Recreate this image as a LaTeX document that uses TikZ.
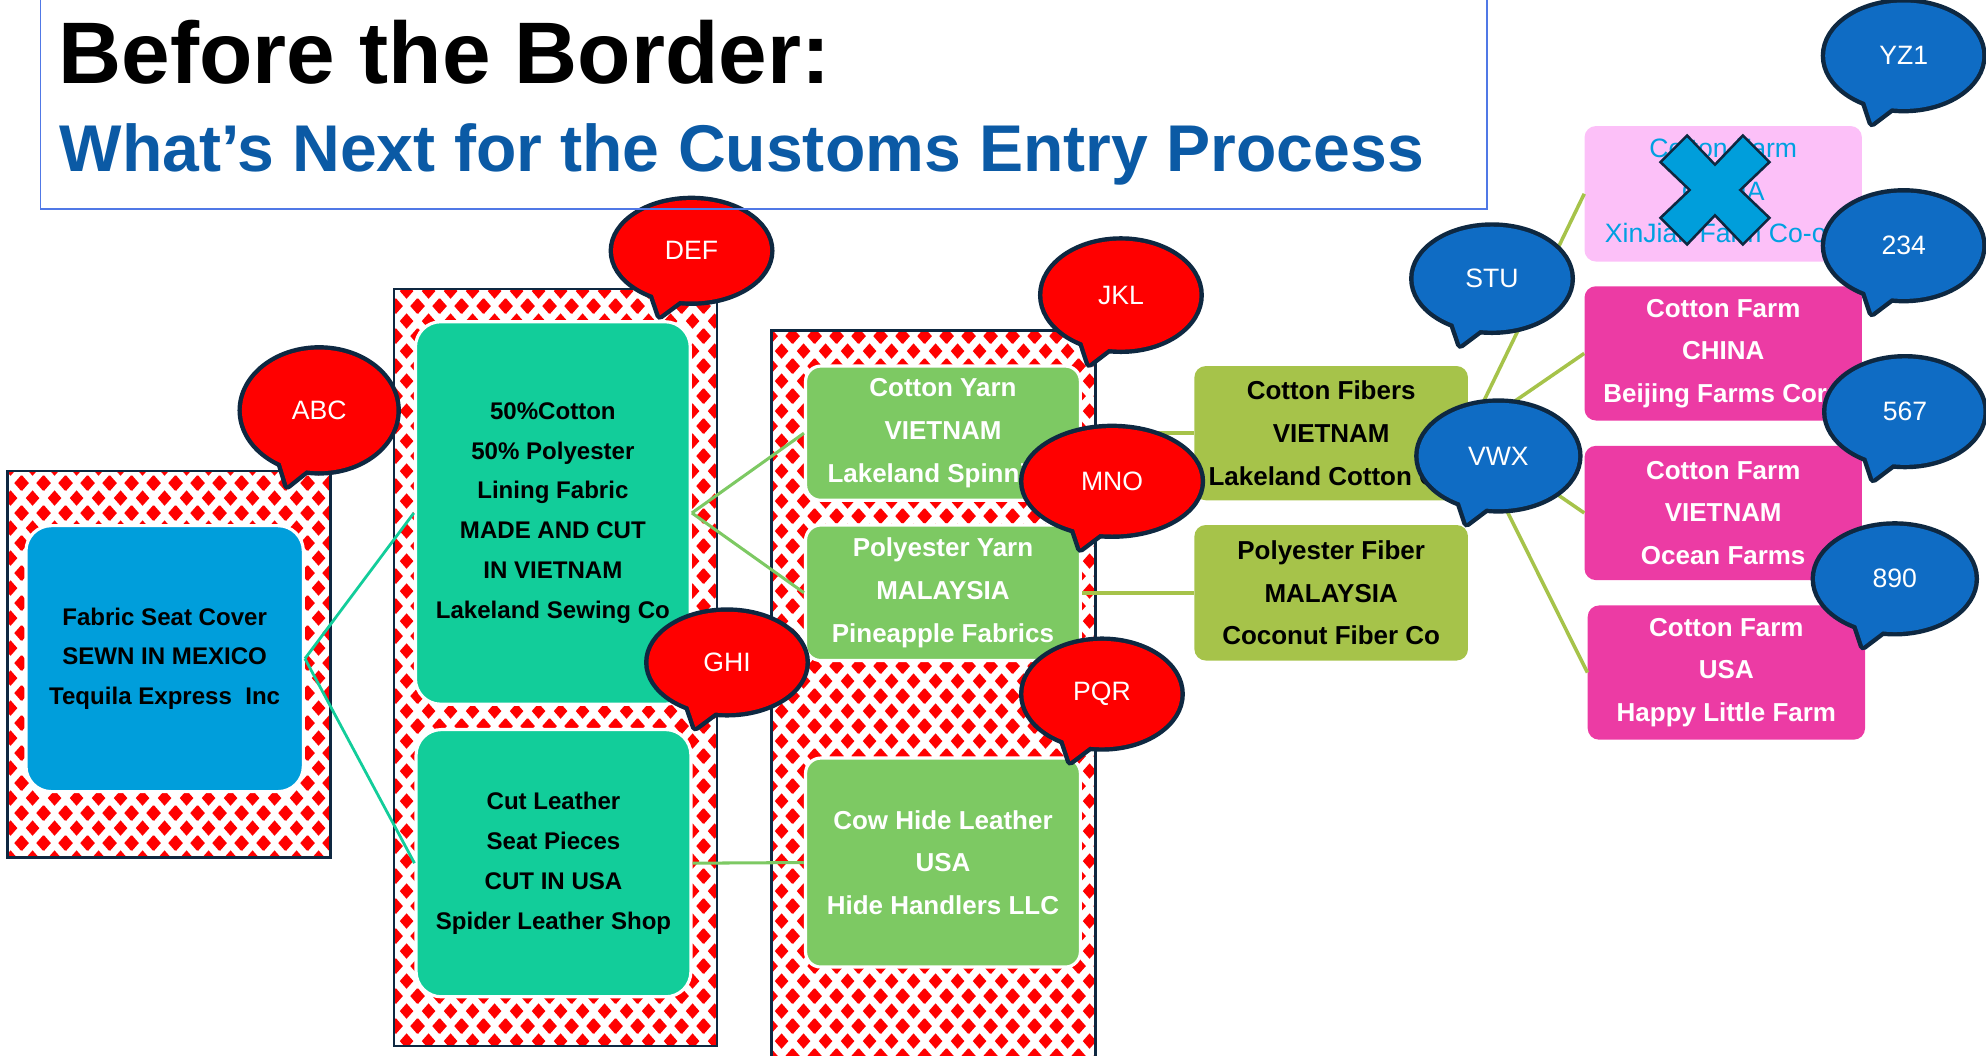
\documentclass[tikz,border=0pt]{standalone}
\usepackage{fontspec}
\setmainfont{Liberation Sans}
\usetikzlibrary{patterns}
\definecolor{navy}{RGB}{14,40,65}
\definecolor{bluebox}{RGB}{0,158,219}
\definecolor{tealbox}{RGB}{18,205,154}
\definecolor{greenbox}{RGB}{125,201,99}
\definecolor{olivebox}{RGB}{166,195,74}
\definecolor{pinkbox}{RGB}{236,59,164}
\definecolor{fadepink}{RGB}{252,192,248}
\definecolor{fadetext}{RGB}{0,160,225}
\definecolor{bubblue}{RGB}{15,108,196}
\definecolor{bubred}{RGB}{255,0,0}
\definecolor{titleblue}{RGB}{11,90,165}
\definecolor{framebl}{RGB}{80,120,230}
\newcommand\pdiamond[2]{%
 \pgfpathmoveto{\pgfpoint{#1pt-5.6pt}{#2pt}}%
 \pgfpathlineto{\pgfpoint{#1pt}{#2pt+6.2pt}}%
 \pgfpathlineto{\pgfpoint{#1pt+5.6pt}{#2pt}}%
 \pgfpathlineto{\pgfpoint{#1pt}{#2pt-6.2pt}}%
 \pgfpathclose}
\pgfdeclarepatternformonly{reddiam}{\pgfpointorigin}{\pgfpoint{17.4pt}{24pt}}{\pgfpoint{17.4pt}{24pt}}{%
 \pdiamond{8.7}{12}\pdiamond{0}{0}\pdiamond{17.4}{0}\pdiamond{0}{24}\pdiamond{17.4}{24}%
 \pgfusepath{fill}}
\newcommand\mybubble[7]{%
 \begin{scope}[shift={(#2,#3)}]
  \draw[navy, line width=7, line join=round] (0,0) ellipse [x radius=#4, y radius=#5];
  \draw[navy, line width=7, line join=round] ({-33},{0.69*#5}) -- ({-25},{#5+11}) -- ({-1},{0.83*#5}) -- cycle;
  \fill[#6] (0,0) ellipse [x radius=#4, y radius=#5];
  \fill[#6] ({-33},{0.69*#5}) -- ({-25},{#5+11}) -- ({-1},{0.83*#5}) -- cycle;
  \node[bubtxt] (#1) at (0,0) {#7};
 \end{scope}}
\begin{document}
\begin{tikzpicture}[x=1pt,y=-1pt,
  framebx/.style={draw=navy, line width=2, pattern=reddiam, pattern color=bubred, inner sep=0},
  bx/.style={inner sep=0, align=center},
  narrowtxt/.style={font=\fontsize{19}{31.4}\selectfont\bfseries},
  widetxt/.style={font=\fontsize{20.5}{33.7}\selectfont\bfseries},
  bluebx/.style={bx, narrowtxt, fill=bluebox, draw=white, line width=2.5, rounded corners=20, text=black},
  tealbx/.style={bx, narrowtxt, fill=tealbox, draw=white, line width=2.5, rounded corners=20, text=black},
  greenbx/.style={bx, widetxt, fill=greenbox, draw=white, line width=2.5, rounded corners=12, text=white},
  olivebx/.style={bx, widetxt, fill=olivebox, rounded corners=9, text=black},
  pinkbx/.style={bx, widetxt, fill=pinkbox, rounded corners=9, text=white},
  fadebx/.style={bx, font=\fontsize{21}{33.5}\selectfont, fill=fadepink, rounded corners=9, text=fadetext},
  bubtxt/.style={font=\fontsize{21}{25}\selectfont, text=white, inner sep=0},
  tealln/.style={draw=tealbox, line width=2.2},
  greenln/.style={draw=greenbox, line width=2.4},
  oliveln/.style={draw=olivebox, line width=2.8}
]
\useasboundingbox (0,0) rectangle (1568,833);
% frames
\node[framebx, minimum width=255pt, minimum height=305pt] (f1) at (133.5,524.5) {};
\node[framebx, minimum width=255pt, minimum height=598pt] (f2) at (438.5,527) {};
\node[framebx, minimum width=256pt, minimum height=590pt] (f3) at (737,556) {};
% boxes
\node[bluebx, minimum width=219pt, minimum height=210pt] (seat) at (130,520) {Fabric Seat Cover\\SEWN IN MEXICO\\Tequila Express\ \ Inc};
\node[tealbx, minimum width=217pt, minimum height=302pt] (teal1) at (436.5,405) {50\%Cotton\\50\% Polyester\\Lining Fabric\\MADE AND CUT\\IN VIETNAM\\Lakeland Sewing Co};
\node[tealbx, minimum width=217pt, minimum height=211pt] (teal2) at (437,681.5) {Cut Leather\\Seat Pieces\\CUT IN USA\\Spider Leather Shop};
\node[greenbx, minimum width=217pt, minimum height=106pt] (yarn1) at (744.5,342) {Cotton Yarn\\VIETNAM\\Lakeland Spinning};
\node[greenbx, minimum width=217pt, minimum height=107pt] (yarn2) at (744.5,468) {Polyester Yarn\\MALAYSIA\\Pineapple Fabrics};
\node[greenbx, minimum width=217pt, minimum height=165pt] (cow) at (744.5,681) {Cow Hide Leather\\USA\\Hide Handlers LLC};
\node[olivebx, minimum width=216pt, minimum height=106pt] (fib1) at (1051,342) {Cotton Fibers\\VIETNAM\\Lakeland Cotton Co};
\node[olivebx, minimum width=216pt, minimum height=107pt] (fib2) at (1051,468) {Polyester Fiber\\MALAYSIA\\Coconut Fiber Co};
\node[fadebx, minimum width=219pt, minimum height=107pt] (farm0) at (1360.5,153) {Cotton Farm\\CHINA\\XinJian Farm Co-op};
\node[pinkbx, minimum width=219pt, minimum height=106pt] (farm1) at (1360.5,279) {Cotton Farm\\CHINA\\Beijing Farms Corp};
\node[pinkbx, minimum width=219pt, minimum height=106pt] (farm2) at (1360.5,405) {Cotton Farm\\VIETNAM\\Ocean Farms};
\node[pinkbx, minimum width=219pt, minimum height=106pt] (farm3) at (1363,531) {Cotton Farm\\USA\\Happy Little Farm};
% connectors between boxes
\draw[tealln] (seat.east) -- (teal1.west);
\draw[tealln] (seat.east) -- (teal2.west);
\draw[greenln] (teal1.east) -- (yarn1.west);
\draw[greenln] (teal1.east) -- (yarn2.west);
\draw[greenln] (teal2.east) -- (cow.west);
\draw[oliveln] (yarn1.east) -- (fib1.west);
\draw[oliveln] (yarn2.east) -- (fib2.west);
\draw[oliveln] (fib1.east) -- (farm0.west);
\draw[oliveln] (fib1.east) -- (farm1.west);
\draw[oliveln] (fib1.east) -- (farm2.west);
\draw[oliveln] (fib1.east) -- (farm3.west);
% cross over the struck-out farm
\begin{scope}[shift={(1354,150)}]
\draw[navy, fill=bluebox, line width=2, line join=miter] (0,-20) -- (22,-43) -- (43,-22) -- (20,0) -- (43,22) -- (22,43) -- (0,20) -- (-22,43) -- (-43,22) -- (-20,0) -- (-43,-22) -- (-22,-43) -- cycle;
\end{scope}
% speech bubbles
\mybubble{bABC}{252}{324}{61}{48}{bubred}{ABC}
\mybubble{bDEF}{546}{198}{62}{40}{bubred}{DEF}
\mybubble{bGHI}{574}{523}{62}{40}{bubred}{GHI}
\mybubble{bJKL}{885}{233}{62}{43}{bubred}{JKL}
\mybubble{bMNO}{878}{380}{70}{42}{bubred}{MNO}
\mybubble{bPQR}{870}{548}{62}{42}{bubred}{PQR}
\mybubble{bSTU}{1178}{220}{62}{41}{bubblue}{STU}
\mybubble{bVWX}{1183}{360}{63}{42}{bubblue}{VWX}
\mybubble{bYZ1}{1503}{44}{62}{42}{bubblue}{YZ1}
\mybubble{b234}{1503}{194}{62}{42}{bubblue}{234}
\mybubble{b567}{1504}{325}{62}{42}{bubblue}{567}
\mybubble{b890}{1496}{457}{63}{42}{bubblue}{890}
% title
\node[anchor=base west, inner sep=0, font=\fontsize{69}{80}\selectfont\bfseries] (title) at (46,66) {Before the Border:};
\node[anchor=base west, inner sep=0, text=titleblue, font=\fontsize{52.2}{60}\selectfont\bfseries] (subtitle) at (47,135.5) {What’s Next for the Customs Entry Process};
\node[draw=framebl, line width=1.5, inner sep=0, minimum width=1142pt, minimum height=175pt] (titlebox) at (603,77.5) {};
\end{tikzpicture}
\end{document}
